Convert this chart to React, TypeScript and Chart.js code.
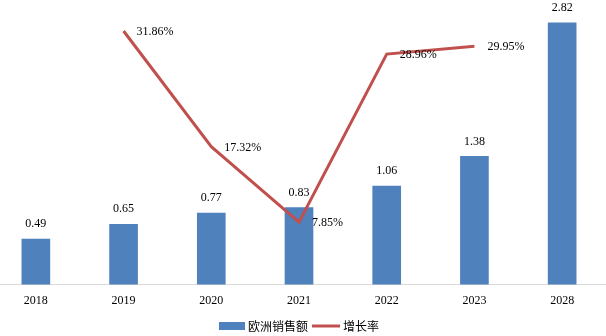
import React, { useEffect, useRef } from "react";
import { Chart, registerables } from "chart.js";

Chart.register(...registerables);

const categories = ["2018", "2019", "2020", "2021", "2022", "2023", "2028"];
const salesValues = [0.49, 0.65, 0.77, 0.83, 1.06, 1.38, 2.82];
const growthValues: (number | null)[] = [null, 31.86, 17.32, 7.85, 28.96, 29.95, null];
const salesLabel = "欧洲销售额";
const growthLabel = "增长率";

const BAR_COLOR = "#4F81BD";
const LINE_COLOR = "#C0504D";
const FONT = "'Liberation Serif', 'Times New Roman', serif";
const CJK_FONT = "'Noto Sans CJK SC', 'Liberation Serif', serif";

const labelPlugin = {
  id: "valueLabels",
  afterDatasetsDraw(chart: any) {
    const ctx = chart.ctx;
    ctx.save();
    ctx.fillStyle = "#000";
    ctx.font = `12px ${FONT}`;
    const barMeta = chart.getDatasetMeta(0);
    barMeta.data.forEach((el: any, i: number) => {
      ctx.textAlign = "center";
      ctx.textBaseline = "middle";
      ctx.fillText(salesValues[i].toFixed(2), el.x, el.y - 15);
    });
    const lineMeta = chart.getDatasetMeta(1);
    lineMeta.data.forEach((el: any, i: number) => {
      const v = growthValues[i];
      if (v == null) return;
      ctx.textAlign = "left";
      ctx.textBaseline = "middle";
      ctx.fillText(v.toFixed(2) + "%", el.x + 13, el.y + 1);
    });
    ctx.restore();
  },
};

const legendPlugin = {
  id: "customLegend",
  afterDraw(chart: any) {
    const ctx = chart.ctx;
    const cx = chart.width / 2;
    const y = 326;
    ctx.save();
    ctx.font = `12px ${CJK_FONT}`;
    ctx.textBaseline = "middle";
    ctx.textAlign = "left";
    const w1 = ctx.measureText(salesLabel).width;
    const w2 = ctx.measureText(growthLabel).width;
    const total = 26 + 3 + w1 + 4 + 28 + 3 + w2;
    let x = cx - total / 2;
    ctx.fillStyle = BAR_COLOR;
    ctx.fillRect(x, y - 4, 26, 8);
    x += 29;
    ctx.fillStyle = "#000";
    ctx.fillText(salesLabel, x, y);
    x += w1 + 4;
    ctx.strokeStyle = LINE_COLOR;
    ctx.lineWidth = 3;
    ctx.beginPath();
    ctx.moveTo(x, y);
    ctx.lineTo(x + 28, y);
    ctx.stroke();
    x += 31;
    ctx.fillStyle = "#000";
    ctx.fillText(growthLabel, x, y);
    ctx.restore();
  },
};

export default function App() {
  const ref = useRef<HTMLCanvasElement>(null);
  useEffect(() => {
    if (!ref.current) return;
    const chart = new Chart(ref.current, {
      type: "bar",
      data: {
        labels: categories,
        datasets: [
          {
            type: "bar",
            label: salesLabel,
            data: salesValues,
            backgroundColor: BAR_COLOR,
            barThickness: 28,
            yAxisID: "y",
            order: 2,
          },
          {
            type: "line",
            label: growthLabel,
            data: growthValues,
            borderColor: LINE_COLOR,
            borderWidth: 3,
            pointRadius: 0,
            tension: 0,
            spanGaps: false,
            yAxisID: "y1",
            order: 1,
          } as any,
        ],
      },
      options: {
        animation: false,
        responsive: false,
        maintainAspectRatio: false,
        layout: { padding: { top: 6, bottom: 19, left: 0, right: 0 } },
        plugins: {
          legend: { display: false },
          tooltip: { enabled: false },
        },
        scales: {
          x: {
            grid: { display: false, drawTicks: false },
            border: { display: true, color: "#d9d9d9", width: 1 },
            ticks: { color: "#000", font: { family: FONT, size: 12 }, padding: 9 },
          },
          y: {
            display: false,
            min: 0,
            max: 3,
          },
          y1: {
            display: false,
            min: 0,
            max: 35,
            position: "right",
          },
        },
      },
      plugins: [labelPlugin, legendPlugin],
    });
    return () => chart.destroy();
  }, []);
  return (
    <div style={{ position: "fixed", left: -8, top: 0, width: 614, height: 336 }}>
      <canvas ref={ref} width={614} height={336} style={{ width: 614, height: 336 }} />
    </div>
  );
}
